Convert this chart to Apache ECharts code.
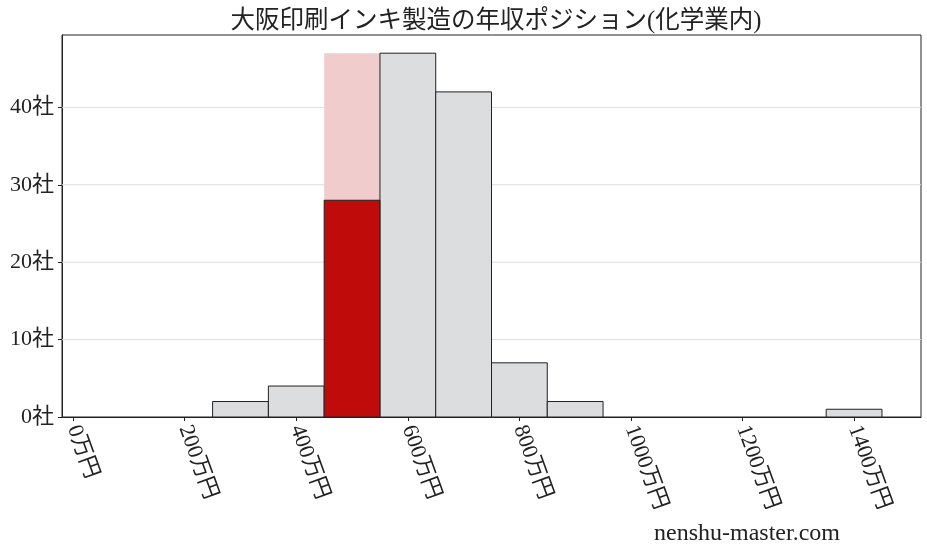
<!DOCTYPE html>
<html>
<head>
<meta charset="utf-8">
<script src="https://cdn.jsdelivr.net/npm/echarts@6/dist/echarts.min.js"></script>
<style>
  html, body { margin: 0; padding: 0; background: #fff; }
  #main { width: 927px; height: 557px; }
</style>
</head>
<body>
<div id="main"></div>
<script type="text/javascript">
// 年収の階級(中心, 幅100万円)と社数
var binCenters = [300, 400, 500, 600, 700, 800, 900, 1400];
var binCounts = [2, 4, 47, 47, 42, 7, 2, 1];
var binWidth = 100;
// 自社の階級
var ownBin = 500;
var ownCount = 28;
var xTicks = [0, 200, 400, 600, 800, 1000, 1200, 1400];
var yTicks = [0, 10, 20, 30, 40];

var serif = "'Liberation Serif', 'DejaVu Serif', 'Noto Sans CJK JP', serif";

var grayData = [];
var pinkData = [];
for (var i = 0; i < binCenters.length; i++) {
    if (binCenters[i] === ownBin) {
        pinkData.push([binCenters[i], binCounts[i]]);
    } else {
        grayData.push([binCenters[i], binCounts[i]]);
    }
}
var redData = [[ownBin, ownCount]];

function makeBar(fill, stroke) {
    return function (params, api) {
        var x = api.value(0), v = api.value(1);
        var p0 = api.coord([x - binWidth / 2, v]);
        var p1 = api.coord([x + binWidth / 2, 0]);
        return {
            type: 'rect',
            shape: { x: p0[0], y: p0[1], width: p1[0] - p0[0], height: p1[1] - p0[1] },
            style: { fill: fill, stroke: stroke, lineWidth: stroke ? 1 : 0 }
        };
    };
}

var myChart = echarts.init(document.getElementById('main'));
var option = {
    animation: false,
    title: {
        text: '大阪印刷インキ製造の年収ポジション(化学業内)',
        left: 491,
        textAlign: 'center',
        top: 4,
        textStyle: { fontFamily: serif, fontSize: 24.5, fontWeight: 'normal', color: '#222' }
    },
    grid: {
        left: 62, right: 6, top: 35, bottom: 140,
        show: true, borderColor: '#222', borderWidth: 1
    },
    xAxis: {
        type: 'value',
        min: -20,
        max: 1520,
        splitLine: { show: false },
        axisLine: { show: true, onZero: false, lineStyle: { color: '#222' } },
        axisTick: { show: true, length: 4, customValues: xTicks, lineStyle: { color: '#222' } },
        axisLabel: {
            customValues: xTicks,
            rotate: -70,
            margin: 9,
            fontFamily: serif,
            fontSize: 22,
            color: '#222',
            formatter: function (v) { return v + '万円'; }
        }
    },
    yAxis: {
        type: 'value',
        min: 0,
        max: 49.35,
        axisLine: { show: true, onZero: false, lineStyle: { color: '#222' } },
        axisTick: { show: true, length: 4, customValues: yTicks, lineStyle: { color: '#222' } },
        splitLine: { show: false },
        axisLabel: {
            customValues: yTicks,
            margin: 8,
            fontFamily: serif,
            fontSize: 22,
            color: '#222',
            formatter: function (v) { return v + '社'; }
        }
    },
    series: [
        {
            // 横グリッド線
            type: 'custom',
            silent: true,
            z: 1,
            data: yTicks.slice(1).map(function (t) { return [t]; }),
            renderItem: function (params, api) {
                var a = api.coord([-20, api.value(0)]);
                var b = api.coord([1520, api.value(0)]);
                return {
                    type: 'line',
                    shape: { x1: a[0], y1: a[1], x2: b[0], y2: b[1] },
                    style: { stroke: '#dddddd', lineWidth: 1 }
                };
            }
        },
        { type: 'custom', z: 2, data: pinkData, renderItem: makeBar('#f0cccc', null) },
        { type: 'custom', z: 3, data: grayData, renderItem: makeBar('#dcdddf', '#222') },
        { type: 'custom', z: 4, data: redData, renderItem: makeBar('#c00b0b', '#222') }
    ],
    graphic: [
        {
            type: 'text',
            left: 654,
            top: 522,
            style: { text: 'nenshu-master.com', font: '24px ' + serif, fill: '#222', letterSpacing: 0.9 }
        }
    ]
};
myChart.setOption(option);
</script>
</body>
</html>
